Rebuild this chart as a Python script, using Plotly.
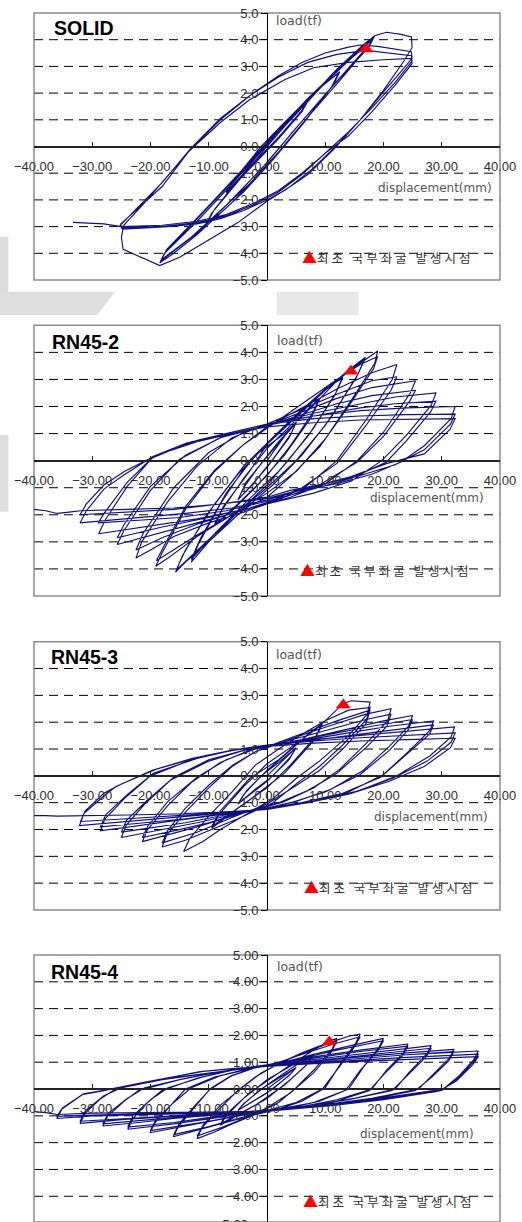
import plotly.graph_objects as go

# ---------------- data ----------------
x_ticks = [-40, -30, -20, -10, 0, 10, 20, 30, 40]
y_ticks = [-5, -4, -3, -2, -1, 0, 1, 2, 3, 4, 5]
grid_levels = [-4, -3, -2, -1, 1, 2, 3, 4]
panel_names = ["SOLID", "RN45-2", "RN45-3", "RN45-4"]
y_tick_formats = [".1f", ".1f", ".1f", ".2f"]
x_title = "displacement(mm)"
y_title = "load(tf)"
legend_text = "최초 국부좌굴 발생시점"

# first local buckling points (red triangles)
buckle_x = [17.0, 14.4, 13.1, 10.7]
buckle_y = [3.65, 3.30, 2.64, 1.75]

# load-displacement paths (x = displacement mm, y = load tf)
solid_path = [
    (0, 0), (4, 1.0), (7, 1.7), (6, 1.3), (2, 0.3), (-2, -0.6), (-7, -1.75), (-6, -1.35), (-2, -0.35),
    (2, 0.6), (7, 1.75), (6, 1.35), (2, 0.35), (-2, -0.55), (-7, -1.7), (-5.5, -1.2), (-1, 0.0),
    (3, 0.9), (8, 2.0), (12.5, 2.8), (11.5, 2.35), (7, 1.1), (2, -0.2), (-3, -1.4), (-7, -2.2), (-10.5, -2.9),
    (-9.5, -2.5), (-5, -1.3), (0, 0.0), (5, 1.3), (9, 2.2), (12.3, 2.75), (11, 2.2), (6, 0.8), (1, -0.5),
    (-4, -1.7), (-8, -2.5), (-10.3, -2.85), (-9, -2.35), (-4, -1.0), (1, 0.4),
    (6, 1.5), (12, 2.9), (16.5, 3.8), (18.5, 4.15), (17.8, 3.85), (13, 2.6), (7, 1.1), (1, -0.5), (-6, -2.1),
    (-12, -3.3), (-16, -4.0), (-18.4, -4.35), (-17.6, -4.0), (-12, -2.8), (-6, -1.4), (0, 0.05), (6, 1.45),
    (12, 2.85), (18.3, 4.1), (17.5, 3.8), (12, 2.45), (6, 0.95), (0, -0.6), (-6, -2.0), (-12, -3.25),
    (-18.3, -4.3), (-17.4, -3.95), (-11, -2.5), (-5, -1.1), (1, 0.35), (7, 1.75), (13, 3.0), (18.2, 4.05),
    (17.4, 3.7), (11, 2.2), (5, 0.7), (-1, -0.85), (-7, -2.2), (-13, -3.4), (-18.2, -4.25), (-17.2, -3.85),
    (-11, -2.45), (-5, -1.05), (1, 0.4), (7, 1.8), (13, 3.05), (16.8, 3.72),
    (18.5, 4.15), (20.5, 4.28), (23, 4.2), (24.8, 4.1), (24.9, 3.7), (23.5, 3.2), (20, 2.1), (16, 1.0),
    (12, 0.05), (8, -0.8), (4, -1.5), (0, -2.05), (-5, -2.85), (-10, -3.5), (-15, -4.15), (-18.4, -4.46),
    (-21, -4.2), (-24.7, -3.85), (-25, -3.4), (-24.6, -2.95), (-21, -2.1), (-17, -1.1), (-12.7, 0.0),
    (-8, 1.0), (-4, 1.7), (-2.4, 2.0), (2, 2.65), (6, 3.15), (10, 3.5), (14, 3.72), (16, 3.8), (19, 3.75),
    (24.8, 3.55), (24.9, 3.3), (23, 2.8), (20, 2.05), (16, 1.0), (11.5, -0.1), (7, -1.05), (3, -1.65),
    (0, -2.0), (-4, -2.4), (-8, -2.7), (-12, -2.9), (-17, -3.0), (-24.8, -3.1), (-25.2, -2.95), (-22, -2.25),
    (-18, -1.35), (-13, -0.05), (-8, 1.05), (-3, 1.9), (2, 2.6), (7, 3.15), (12, 3.45), (17, 3.6),
    (24.8, 3.4), (24.9, 3.2), (22, 2.4), (18, 1.45), (14, 0.55), (10.5, -0.15), (6, -1.05), (2, -1.7),
    (-2, -2.15), (-7, -2.6), (-12, -2.85), (-18, -3.0), (-25, -3.05), (-25.1, -2.9), (-22, -2.3),
    (-18, -1.5), (-13.5, -0.2), (-8, 0.9), (-3, 1.75), (3, 2.5), (8, 2.95), (14, 3.15), (20, 3.25),
    (24.8, 3.3), (24.9, 3.1), (22, 2.3), (18, 1.3), (14, 0.4), (10.3, -0.2), (6, -1.0), (2, -1.65),
    (-2, -2.1), (-7, -2.55), (-12, -2.8), (-18, -2.95), (-25, -3.0), (-28, -2.9), (-30, -2.88), (-33.3, -2.84),
]

rn45_2_path = [
    (0, 0), (3, 0.9), (5, 1.4), (4, 0.95), (1, 0.05), (-2, -0.75), (-5, -1.45), (-4, -1.0), (-1, -0.1),
    (2, 0.7), (5, 1.4), (3.8, 0.85), (0, -0.25), (-3, -1.0), (-5, -1.45), (-3.6, -0.8), (0, 0.15),
    (4, 1.15), (7, 1.9), (9, 2.3), (7.8, 1.75), (4, 0.55), (0, -0.55), (-5, -1.6), (-9, -2.4), (-7.8, -1.85),
    (-4, -0.65), (0, 0.45), (5, 1.5), (9, 2.25), (7.6, 1.6), (3, 0.2), (-2, -1.0), (-6, -1.85), (-9, -2.35),
    (-7.5, -1.7), (-3, -0.4),
    (0, 0.6), (5, 1.6), (10, 2.6), (13, 3.1), (11.8, 2.5), (8, 1.2), (4, 0.1), (0, -0.9), (-5, -1.9),
    (-10, -3.0), (-13, -3.75), (-11.8, -3.1), (-8, -1.6), (-4, -0.3), (0, 0.65), (5, 1.7), (10, 2.65),
    (13, 3.05), (11.6, 2.4), (7, 0.9), (2, -0.4), (-3, -1.4), (-9, -2.7), (-13, -3.65), (-11.5, -2.9),
    (-7, -1.2), (-2, 0.2),
    (3, 1.0), (8, 2.05), (12, 2.95), (14.2, 3.38), (16.9, 3.82), (15.5, 3.15), (11, 1.6), (6, 0.2),
    (1, -0.9), (-5, -2.0), (-10, -3.0), (-14, -3.75), (-15.7, -4.12), (-14.5, -3.5), (-10, -1.9), (-5, -0.5),
    (0, 0.6), (5, 1.6), (10, 2.6), (14, 3.35), (16.8, 3.75), (15.3, 3.05), (10, 1.3), (5, 0.0), (0, -1.0),
    (-5, -1.9), (-10, -2.9), (-15.6, -4.05), (-14, -3.3), (-9, -1.6), (-4, -0.2),
    (1, 0.85), (6, 1.85), (11, 2.8), (16, 3.6), (19, 4.05), (18.5, 3.6), (15, 2.4), (10, 0.8), (5, -0.4),
    (0, -1.2), (-6, -2.0), (-12, -2.8), (-17, -3.6), (-19.1, -3.9), (-18, -3.4), (-14, -1.8), (-9, -0.4),
    (-4, 0.6), (0, 1.2), (6, 2.1), (12, 3.0), (16, 3.55), (19, 3.85), (18.3, 3.4), (14, 2.0), (9, 0.5),
    (4, -0.6), (0, -1.35), (-6, -2.0), (-12, -2.75), (-16, -3.3), (-19, -3.7), (-17.8, -3.2), (-14, -1.7),
    (-9, -0.35), (-4, 0.6),
    (0, 1.25), (6, 1.95), (12, 2.65), (18, 3.25), (22.3, 3.55), (21.5, 3.0), (17, 1.5), (12, 0.0), (7, -0.9),
    (2, -1.45), (-4, -1.9), (-10, -2.3), (-16, -2.8), (-20, -3.3), (-22.5, -3.6), (-21.5, -3.0), (-17, -1.5),
    (-12, -0.2), (-6, 0.85), (0, 1.35), (6, 1.9), (12, 2.45), (18, 2.95), (22.3, 3.1), (21.3, 2.6),
    (17, 1.3), (12, -0.1), (6, -1.0), (0, -1.55), (-6, -1.95), (-12, -2.35), (-18, -2.85), (-22.5, -3.3),
    (-21.3, -2.7), (-16, -1.0), (-10, 0.3), (-4, 1.05),
    (0, 1.3), (6, 1.8), (12, 2.3), (18, 2.7), (25.5, 2.95), (24.6, 2.5), (20, 1.05), (15.5, 0.0), (10, -0.85),
    (4, -1.35), (0, -1.6), (-6, -1.95), (-12, -2.3), (-18, -2.65), (-25.7, -3.1), (-24.6, -2.6), (-20, -1.1),
    (-15, 0.05), (-8, 0.85), (0, 1.3), (6, 1.7), (12, 2.1), (18, 2.4), (25.5, 2.6), (24.5, 2.2), (20, 0.9),
    (15.5, -0.05), (9, -0.9), (3, -1.35), (-3, -1.75), (-10, -2.1), (-18, -2.45), (-25.7, -2.85),
    (-24.5, -2.35), (-20, -0.95), (-14, 0.2), (-7, 0.95),
    (0, 1.3), (8, 1.75), (16, 2.1), (22, 2.35), (29, 2.5), (28.2, 2.05), (24, 0.95), (19.7, 0.0),
    (14.5, -0.75), (8, -1.2), (2, -1.5), (-5, -1.85), (-12, -2.15), (-20, -2.4), (-28.9, -2.7),
    (-27.8, -2.2), (-24, -0.95), (-19.7, 0.1), (-13, 0.7), (-6, 1.0), (0, 1.3), (8, 1.65), (16, 1.95),
    (22, 2.1), (29, 2.2), (28.1, 1.8), (24, 0.75), (20.5, -0.05), (14.5, -0.65), (7, -1.1), (0, -1.5),
    (-7, -1.85), (-15, -2.1), (-22, -2.2), (-29, -2.3), (-27.8, -1.9), (-24, -0.8), (-19.5, 0.15), (-12, 0.75),
    (-5, 1.1), (0, 1.35), (8, 1.65), (16, 1.85), (24, 1.95), (32.3, 2.0), (31.6, 1.55), (27, 0.55),
    (23, -0.05), (18, -0.5), (12, -0.85), (5.7, -1.1), (0, -1.45), (-6, -1.75), (-14, -1.95), (-22, -2.1),
    (-32.1, -2.3), (-31, -1.85), (-28, -1.05), (-24.7, -0.55), (-19.6, 0.15), (-13.8, 0.65), (-5.8, 1.07),
    (0, 1.35), (8, 1.55), (16, 1.65), (24, 1.7), (32.3, 1.72), (31.5, 1.35), (27, 0.4), (22, -0.15),
    (16, -0.55), (10, -0.85), (4, -1.1), (0, -1.35), (-8, -1.6), (-16, -1.8), (-24, -1.9), (-32.1, -2.0),
    (-31, -1.6), (-28, -0.9), (-24.5, -0.4), (-19, 0.2), (-12, 0.7), (-5, 1.05), (0, 1.25), (8, 1.4),
    (16, 1.5), (24, 1.52), (32.3, 1.55), (31.4, 1.15), (27, 0.25), (20.6, -0.1), (14.3, -0.6), (5.7, -1.08),
    (0, -1.4), (-8, -1.6), (-16, -1.75), (-24, -1.8), (-32, -1.85), (-34, -1.9), (-36, -1.95), (-38, -1.85),
    (-40.8, -1.78),
]

rn45_3_path = [
    (0, 0), (3, 0.65), (5, 1.05), (4, 0.7), (1, 0.0), (-2, -0.5), (-5, -1.05), (-4, -0.7), (-1, 0.0),
    (2, 0.5), (5, 1.05), (3.8, 0.6), (0, -0.2), (-5, -1.05), (-3.5, -0.55), (0, 0.2),
    (4, 0.95), (7, 1.55), (9.5, 1.95), (8.3, 1.45), (4, 0.4), (0, -0.45), (-5, -1.2), (-9.5, -1.95),
    (-8.3, -1.45), (-4, -0.4), (0, 0.45), (5, 1.2), (9.5, 1.9), (8, 1.3), (3, 0.1), (-3, -0.9), (-9.5, -1.9),
    (-8, -1.3), (-3, -0.1),
    (2, 0.6), (6, 1.35), (10, 2.05), (13.1, 2.7), (14.5, 2.8), (17.7, 2.75), (17.2, 2.3), (14, 1.5),
    (9, 0.55), (5, -0.1), (1, -0.85), (-4, -1.5), (-8, -2.0), (-11, -2.45), (-14.3, -2.82), (-13.3, -2.35),
    (-10, -1.5), (-6, -0.6), (-2, 0.4),
    (2, 1.0), (6, 1.55), (10, 2.05), (14, 2.45), (17.7, 2.55), (17.1, 2.1), (13, 1.15), (9, 0.35), (5, -0.3),
    (1, -1.0), (-5, -1.6), (-10, -2.05), (-14, -2.4), (-18, -2.65), (-17.2, -2.2), (-14, -1.35), (-10, -0.45),
    (-6, 0.35), (-2, 0.9), (2, 1.25), (7, 1.65), (12, 2.05), (17.7, 2.45), (17, 1.95), (13, 1.0), (9, 0.2),
    (4, -0.5), (0, -1.05), (-6, -1.55), (-12, -2.1), (-18, -2.5), (-17.1, -2.05), (-14, -1.2), (-10, -0.35),
    (-5.9, 0.4), (-2, 0.9),
    (2, 1.2), (7, 1.6), (12, 1.95), (17, 2.3), (21.3, 2.5), (20.7, 2.05), (17, 1.2), (12.5, 0.25), (8, -0.45),
    (3, -0.95), (0, -1.15), (-6, -1.5), (-12, -1.9), (-17, -2.2), (-21.4, -2.45), (-20.5, -2.0), (-17, -1.1),
    (-13, -0.25), (-8, 0.5), (-3, 0.95), (0, 1.1), (6, 1.45), (12, 1.8), (17, 2.1), (21.3, 2.3), (20.6, 1.85),
    (17, 1.05), (12, 0.1), (7, -0.55), (2, -1.0), (-4, -1.35), (-10, -1.75), (-16, -2.05), (-21.4, -2.3),
    (-20.4, -1.85), (-17, -0.95), (-12, -0.05), (-7, 0.6), (-2, 1.0),
    (3, 1.2), (9, 1.5), (15, 1.8), (20, 2.05), (25, 2.25), (24.3, 1.85), (21, 1.1), (16.5, 0.2), (11, -0.5),
    (5, -0.95), (0, -1.2), (-6, -1.45), (-12, -1.75), (-18, -2.0), (-25, -2.3), (-24.2, -1.85), (-21, -1.05),
    (-16.5, -0.15), (-10, 0.55), (-4, 0.95), (0, 1.1), (6, 1.35), (12, 1.6), (18, 1.85), (25, 2.1),
    (24.2, 1.7), (21, 0.95), (16, 0.05), (10, -0.6), (4, -1.0), (0, -1.2), (-7, -1.45), (-14, -1.75),
    (-20, -1.95), (-25, -2.1), (-24.1, -1.65), (-20.5, -0.9), (-16, -0.05), (-10, 0.6), (-4, 0.95),
    (0, 1.1), (7, 1.35), (14, 1.6), (21, 1.85), (28.6, 2.05), (28, 1.7), (24.5, 0.95), (20, 0.05), (14, -0.6),
    (8, -0.95), (2, -1.15), (-5, -1.35), (-12, -1.55), (-20, -1.8), (-28.6, -2.05), (-27.8, -1.6),
    (-24.5, -0.85), (-20, 0.0), (-13, 0.6), (-6, 0.95), (0, 1.1), (7, 1.3), (14, 1.5), (21, 1.7), (28.6, 1.9),
    (27.9, 1.55), (24, 0.8), (19.5, -0.05), (13, -0.65), (6, -1.0), (0, -1.2), (-7, -1.4), (-14, -1.6),
    (-21, -1.75), (-28.6, -1.9), (-27.7, -1.45), (-24, -0.7), (-19.5, 0.1), (-12, 0.65), (-5.9, 0.96),
    (0, 1.15), (8, 1.35), (16, 1.5), (24, 1.65), (32.2, 1.82), (31.6, 1.45), (28, 0.75), (22.3, 0.0),
    (16, -0.54), (9.1, -0.91), (0, -1.25), (-8, -1.4), (-16, -1.55), (-24, -1.7), (-32.2, -1.85),
    (-31.4, -1.4), (-28, -0.75), (-26, -0.41), (-19.7, 0.21), (-12.8, 0.65), (-5.9, 0.96), (0, 1.12),
    (8, 1.3), (16, 1.42), (24, 1.52), (32.3, 1.6), (31.6, 1.25), (27.5, 0.55), (21.5, -0.1), (15, -0.6),
    (8, -0.95), (0, -1.25), (-8, -1.38), (-16, -1.5), (-24, -1.6), (-32, -1.7), (-31.2, -1.3), (-28, -0.65),
    (-25, -0.3), (-19, 0.25), (-12, 0.68), (-5, 0.98), (0, 1.1), (8, 1.22), (16, 1.3), (24, 1.35),
    (32.3, 1.4), (31.5, 1.05), (27, 0.35), (21, -0.2), (14, -0.68), (7, -1.0), (0, -1.25), (-8, -1.35),
    (-16, -1.42), (-24, -1.46), (-32.3, -1.48), (-34, -1.5), (-36, -1.5), (-38, -1.48), (-41.2, -1.48),
]

rn45_4_path = [
    (0, 0), (3, 0.5), (5, 0.8), (4, 0.55), (1, 0.0), (-2, -0.4), (-5, -0.8), (-4, -0.55), (-1, 0.0),
    (2, 0.4), (5, 0.8), (3.8, 0.5), (0, -0.15), (-5, -0.8), (-3.5, -0.45), (0, 0.15),
    (4, 0.75), (8, 1.3), (7, 0.95), (4, 0.35), (0, -0.35), (-4, -0.85), (-8, -1.35), (-7, -1.0), (-4, -0.35),
    (0, 0.35), (4, 0.85), (8, 1.3), (6.8, 0.9), (3, 0.15), (-2, -0.6), (-8, -1.3), (-6.8, -0.9), (-3, -0.15),
    (1, 0.45), (5, 1.05), (8, 1.45), (10.7, 1.81), (12, 1.88), (11.2, 1.5), (8, 0.7), (5, 0.05), (2, -0.5),
    (-2, -0.95), (-6, -1.3), (-9, -1.6), (-12, -1.85), (-11.2, -1.45), (-8, -0.7), (-5, -0.05), (-2, 0.45),
    (2, 0.95), (6, 1.35), (9, 1.6), (12, 1.8), (11.1, 1.4), (8, 0.6), (4, -0.15), (0, -0.7), (-4, -1.1),
    (-8, -1.45), (-12, -1.75), (-11, -1.35), (-8, -0.6), (-4, 0.1), (-1, 0.6),
    (3, 1.05), (7, 1.4), (11, 1.75), (14, 1.97), (16, 2.05), (15.2, 1.7), (12.5, 0.9), (10, 0.05), (6, -0.45),
    (2, -0.75), (-3, -1.0), (-8, -1.3), (-12, -1.55), (-16.1, -1.78), (-15.2, -1.4), (-12.5, -0.7),
    (-10, -0.05), (-6, 0.5), (-2, 0.8), (2, 1.0), (7, 1.35), (11, 1.65), (16, 1.95), (15.1, 1.6), (12.3, 0.8),
    (9.5, 0.0), (5, -0.5), (0, -0.8), (-5, -1.1), (-10, -1.4), (-16, -1.7), (-15.1, -1.3), (-12.3, -0.6),
    (-9.5, 0.05), (-6.1, 0.5), (-2, 0.8),
    (2, 0.95), (8, 1.3), (14, 1.6), (20, 1.89), (19.2, 1.55), (16.5, 0.8), (14, 0.0), (9, -0.45), (4, -0.7),
    (0, -0.82), (-6, -1.05), (-12, -1.3), (-16, -1.45), (-20.1, -1.63), (-19.2, -1.25), (-16.5, -0.6),
    (-14, 0.0), (-9, 0.45), (-4, 0.72), (0, 0.9), (6, 1.15), (12, 1.45), (20, 1.8), (19.1, 1.45), (16, 0.7),
    (13.5, -0.05), (8, -0.5), (2, -0.75), (-4, -0.95), (-10, -1.2), (-16, -1.4), (-20, -1.55), (-19.1, -1.15),
    (-16, -0.5), (-13, 0.05), (-8, 0.5), (-3, 0.75),
    (2, 0.95), (8, 1.2), (16, 1.45), (24.2, 1.68), (23.4, 1.35), (20.5, 0.7), (18, 0.0), (12, -0.4),
    (6, -0.65), (0, -0.8), (-8, -1.05), (-16, -1.3), (-23.9, -1.5), (-23, -1.1), (-20.5, -0.5), (-18, -0.05),
    (-12, 0.4), (-6.1, 0.72), (0, 0.9), (8, 1.15), (16, 1.4), (24.2, 1.6), (23.3, 1.25), (20.3, 0.6),
    (17.6, -0.05), (11.3, -0.5), (5, -0.7), (0, -0.8), (-8, -1.0), (-16, -1.25), (-23.9, -1.42), (-23, -1.0),
    (-20, -0.4), (-17, 0.05), (-11, 0.45), (-5, 0.75),
    (0, 0.9), (8, 1.1), (16, 1.3), (22, 1.45), (28.2, 1.62), (27.4, 1.3), (24.5, 0.65), (22, 0.0), (15, -0.35),
    (8, -0.6), (0, -0.8), (-8, -0.95), (-16, -1.1), (-22, -1.25), (-28.2, -1.38), (-27.3, -1.0), (-24.5, -0.45),
    (-22, -0.05), (-15, 0.35), (-8, 0.65), (0, 0.88), (8, 1.05), (16, 1.25), (22, 1.38), (28.2, 1.52),
    (27.3, 1.2), (24.3, 0.55), (21.5, -0.05), (14, -0.4), (6, -0.65), (0, -0.78), (-8, -0.92), (-16, -1.05),
    (-22, -1.18), (-28.2, -1.3), (-27.2, -0.9), (-24, -0.35), (-21, 0.05), (-14, 0.4), (-6.1, 0.72),
    (0, 0.88), (8, 1.05), (16, 1.2), (24, 1.35), (32.1, 1.48), (31.3, 1.15), (28.5, 0.55), (26, 0.0),
    (18, -0.35), (10, -0.58), (0, -0.8), (-8, -0.92), (-16, -1.02), (-24, -1.12), (-32.1, -1.28),
    (-31.2, -0.9), (-28.5, -0.35), (-26, 0.0), (-18, 0.35), (-9, 0.62), (0, 0.85), (8, 1.0), (16, 1.15),
    (24, 1.28), (32.1, 1.4), (31.2, 1.05), (28.3, 0.45), (25.5, -0.05), (18, -0.38), (10, -0.6), (0, -0.8),
    (-8, -0.9), (-16, -1.0), (-24, -1.1), (-32.1, -1.2), (-31.1, -0.8), (-28, -0.25), (-25, 0.05), (-17, 0.4),
    (-8, 0.65),
    (0, 0.85), (8, 1.0), (16, 1.15), (24, 1.28), (30, 1.35), (36.3, 1.42), (35.5, 1.1), (33, 0.5), (30.3, 0.0),
    (20, -0.33), (11.3, -0.58), (0, -0.83), (-10, -0.9), (-20, -0.95), (-30, -1.0), (-36.1, -1.1),
    (-35.2, -0.75), (-31.6, -0.2), (-28.7, -0.09), (-20.1, 0.28), (-11.5, 0.65), (-6, 0.76), (0, 0.85),
    (8, 0.97), (16, 1.08), (24, 1.18), (30, 1.25), (36.3, 1.3), (35.4, 1.0), (32.8, 0.4), (30, -0.05),
    (20, -0.36), (11, -0.6), (0, -0.82), (-10, -0.88), (-20, -0.92), (-30, -0.97), (-36.1, -1.02),
    (-35.1, -0.7), (-31.5, -0.18), (-28, -0.05), (-20, 0.3), (-11, 0.66), (-5, 0.78), (0, 0.85), (8, 0.95),
    (16, 1.03), (24, 1.1), (30, 1.15), (36.3, 1.21), (35.3, 0.9), (32.5, 0.3), (29.5, -0.08), (20, -0.4),
    (11, -0.62), (0, -0.83), (-10, -0.86), (-20, -0.88), (-30, -0.9), (-36, -0.95), (-38, -0.88), (-40.7, -0.83),
]

paths = [solid_path, rn45_2_path, rn45_3_path, rn45_4_path]

# ---------------- layout (pixel geometry) ----------------
W, H = 522, 1222
XL, XR = 34, 500
tops = [13, 325.3, 641.7, 955]
bots = [280, 596, 910, 1222]
yranges = [(-5, 5), (-5, 5), (-5, 5), (-4.96, 5)]
title_px = [(52, 28), (50, 341.7), (49.3, 656.7), (49.3, 971.7)]
load_px = [(298.5, 20.7), (299.7, 340.7), (299.3, 654), (300, 966.7)]
disp_px = [(434.5, 188), (427, 498.3), (431, 816.7), (416.7, 1134.3)]
legend_px = [(300, 256.7), (298, 569.3), (302, 886), (301.3, 1200)]

NAVY = "#10107f"
TXT = "#2e2e2e"
TICKFONT = dict(family="Liberation Sans, Arial, sans-serif", size=13, color=TXT)


def px_x(p):
    return p / W


def px_y(p):
    return 1 - p / H


fig = go.Figure()
layout = dict(
    width=W, height=H, margin=dict(l=0, r=0, t=0, b=0),
    paper_bgcolor="white", plot_bgcolor="white", showlegend=False,
    font=dict(family="Liberation Sans, Arial, sans-serif", color=TXT),
)
shapes = []
annotations = []

# faint grey background smudges of the scanned page
shapes.append(dict(type="rect", xref="paper", yref="paper", x0=px_x(0), x1=px_x(8.3),
                   y0=px_y(315), y1=px_y(236.7), fillcolor="#dcdcdc", line=dict(width=0), layer="below"))
shapes.append(dict(type="path", xref="paper", yref="paper",
                   path="M %f,%f L %f,%f L %f,%f L %f,%f Z" % (
                       px_x(0), px_y(291.7), px_x(115), px_y(291.7), px_x(97), px_y(315), px_x(0), px_y(315)),
                   fillcolor="#dedede", line=dict(width=0), layer="below"))
shapes.append(dict(type="rect", xref="paper", yref="paper", x0=px_x(276.7), x1=px_x(358.3),
                   y0=px_y(315), y1=px_y(291.7), fillcolor="#e8e8e8", line=dict(width=0), layer="below"))
shapes.append(dict(type="rect", xref="paper", yref="paper", x0=px_x(0), x1=px_x(8.3),
                   y0=px_y(511.7), y1=px_y(435), fillcolor="#dedede", line=dict(width=0), layer="below"))

for i in range(4):
    n = i + 1
    sfx = "" if n == 1 else str(n)
    xa, ya = "x" + sfx, "y" + sfx
    pts = paths[i]
    fig.add_trace(go.Scatter(x=[p[0] for p in pts], y=[p[1] for p in pts], mode="lines",
                             line=dict(color=NAVY, width=1.15), xaxis=xa, yaxis=ya, hoverinfo="skip"))
    fig.add_trace(go.Scatter(x=[buckle_x[i]], y=[buckle_y[i]], mode="markers",
                             marker=dict(symbol="triangle-up", size=13, color="#ff0000", line=dict(width=0)),
                             xaxis=xa, yaxis=ya, hoverinfo="skip"))

    top, bot = tops[i], bots[i]
    r0, r1 = yranges[i]
    zero_px = top + (r1 - 0) / (r1 - r0) * (bot - top)

    layout["xaxis" + sfx] = dict(
        domain=[px_x(XL), px_x(XR)], range=[-40, 40], anchor="free", position=px_y(zero_px),
        showline=True, linecolor="#222222", linewidth=1.5, ticks="inside", ticklen=4, tickcolor="#222222",
        tickwidth=1, tickvals=x_ticks, tickformat=".2f", tickfont=TICKFONT, showgrid=False, zeroline=False,
        ticklabelstandoff=8, ticklabeloverflow="allow", automargin=False, fixedrange=True,
    )
    layout["yaxis" + sfx] = dict(
        domain=[px_y(bot), px_y(top)], range=[r0, r1], anchor="free", position=px_x((XL + XR) / 2),
        showline=True, linecolor="black", linewidth=1, ticks="outside", ticklen=6, tickcolor="black",
        tickvals=y_ticks, tickformat=y_tick_formats[i], tickfont=TICKFONT, showgrid=False, zeroline=False,
        ticklabeloverflow="allow", automargin=False, fixedrange=True,
    )

    for v in grid_levels:
        shapes.append(dict(type="line", xref=xa + " domain", yref=ya, x0=0, x1=1, y0=v, y1=v,
                           line=dict(color="black", width=1, dash="9px,6px"), layer="below"))
    shapes.append(dict(type="rect", xref=xa + " domain", yref=ya + " domain", x0=0, x1=1, y0=0, y1=1,
                       line=dict(color="#8c8c8c", width=1.5), layer="below"))

    tx, ty = title_px[i]
    annotations.append(dict(xref="paper", yref="paper", x=px_x(tx), y=px_y(ty), xanchor="left",
                            yanchor="middle", showarrow=False, text="<b>%s</b>" % panel_names[i],
                            font=dict(family="Liberation Sans, Arial, sans-serif", size=19.5, color="black")))
    lx, ly = load_px[i]
    annotations.append(dict(xref="paper", yref="paper", x=px_x(lx), y=px_y(ly), xanchor="center",
                            yanchor="middle", showarrow=False, text=y_title,
                            font=dict(family="DejaVu Sans", size=12.5, color="#555555")))
    dx, dy = disp_px[i]
    annotations.append(dict(xref="paper", yref="paper", x=px_x(dx), y=px_y(dy), xanchor="center",
                            yanchor="middle", showarrow=False, text=x_title,
                            font=dict(family="DejaVu Sans", size=12, color="#555555")))
    gx, gy = legend_px[i]
    annotations.append(dict(xref="paper", yref="paper", x=px_x(gx), y=px_y(gy), xanchor="left",
                            yanchor="middle", showarrow=False,
                            text="<span style='color:#ff0000;font-size:15px'>▲</span>"
                                 "<span style='letter-spacing:3px'>%s</span>" % legend_text,
                            font=dict(family="Noto Sans CJK KR", size=12.5, color="#333333")))

# bottom tick label of the last panel, cut by the page edge as in the reference
annotations.append(dict(xref="paper", yref="paper", x=px_x(250), y=px_y(1224), xanchor="right",
                        yanchor="middle", showarrow=False, text="−5.00", font=TICKFONT))

layout["shapes"] = shapes
layout["annotations"] = annotations
fig.update_layout(**layout)
fig.write_html("out.html")
